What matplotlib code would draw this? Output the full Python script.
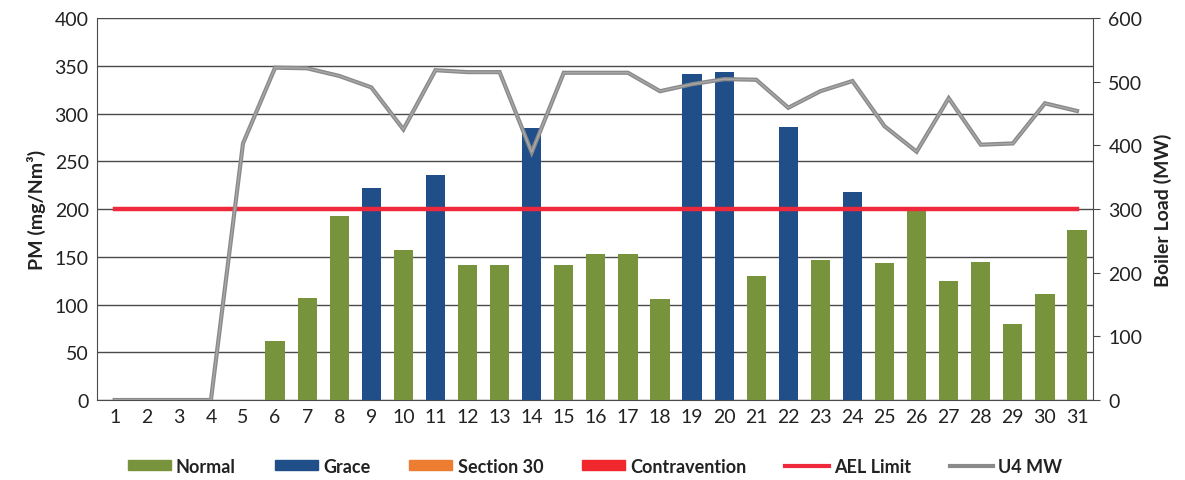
import numpy as np
import matplotlib
matplotlib.use("Agg")
import matplotlib.pyplot as plt
from matplotlib.patches import Patch
from matplotlib.lines import Line2D

plt.rcParams['font.family'] = ['Lato', 'DejaVu Sans']

# data
days = list(range(1, 32))
# PM per day (mg/Nm3); None = no bar
normal = [None, None, None, None, None, 62, 107, 193, None, 157, None, 141, 141, None, 141,
          153, 153, 106, None, None, 130, None, 147, None, 143, 199, 125, 144, 80, 111, 178]
grace = [None, None, None, None, None, None, None, None, 222, None, 236, None, None, 285, None,
         None, None, None, 341, 343, None, 286, None, 218, None, None, None, None, None, None, None]
ael_limit = [200] * 31
u4_mw = [0, 0, 0, 0, 403, 522, 521, 509, 491, 425, 518, 515, 515, 389, 514,
         514, 514, 485, 496, 504, 503, 459, 485, 501, 430, 390, 474, 401, 403, 466, 454]

c_normal = '#77933c'
c_grace = '#1f4e88'
c_s30 = '#ed7d31'
c_contra = '#f0282d'
c_ael = '#f0283c'
c_mw = '#8a8a8a'

fig = plt.figure(figsize=(11.85, 4.81), dpi=100)
ax = fig.add_axes([0.0819, 0.1663, 0.8405, 0.7942])

x = np.array(days)
w = 0.6
nv = np.array([v if v is not None else np.nan for v in normal], dtype=float)
gv = np.array([v if v is not None else np.nan for v in grace], dtype=float)
ax.bar(x, nv, w, color=c_normal, zorder=3)
ax.bar(x, gv, w, color=c_grace, zorder=3)

ax.set_xlim(0.45, 31.5)
ax.set_ylim(0, 400)
ax.set_yticks(range(0, 401, 50))
ax.set_xticks(x)
ax.set_xticklabels([str(d) for d in days])
ax.yaxis.grid(True, color='#4a4a4a', linewidth=1.0, zorder=0)
ax.tick_params(axis='both', length=0, labelsize=14, colors='#222222', pad=6)
ax.set_ylabel('PM (mg/Nm³)', fontsize=14, fontweight='bold', color='#222222', labelpad=6)
for s in ['left', 'bottom']:
    ax.spines[s].set_color('#4a4a4a')
for s in ['top', 'right']:
    ax.spines[s].set_visible(False)

ax2 = ax.twinx()
ax2.set_ylim(0, 600)
ax2.set_yticks(range(0, 601, 100))
ax2.plot(x, np.array(ael_limit) * 1.5, color=c_ael, linewidth=3.2, zorder=4)
ax2.plot(x, u4_mw, color=c_mw, linewidth=3.0, zorder=5, solid_joinstyle='miter')
ax2.plot(x, u4_mw, color='#a8a8a8', linewidth=1.0, zorder=6, solid_joinstyle='miter')
ax2.tick_params(axis='y', length=5, direction='out', labelsize=14, colors='#4a4a4a',
                labelcolor='#222222', pad=6)
ax2.set_ylabel('Boiler Load (MW)', fontsize=14, fontweight='bold', color='#222222', labelpad=8)
for s in ['top', 'left', 'bottom']:
    ax2.spines[s].set_visible(False)
ax2.spines['right'].set_color('#4a4a4a')

handles = [Patch(color=c_normal), Patch(color=c_grace), Patch(color=c_s30), Patch(color=c_contra),
           Line2D([], [], color=c_ael, lw=3), Line2D([], [], color=c_mw, lw=3)]
labels = ['Normal', 'Grace', 'Section 30', 'Contravention', 'AEL Limit', 'U4 MW']
leg = fig.legend(handles, labels, loc='center', bbox_to_anchor=(0.502, 0.029), ncol=6, frameon=False,
                 prop={'size': 13, 'weight': 'bold'}, handlelength=2.4, handleheight=0.45,
                 handletextpad=0.28, columnspacing=2.15)
for t in leg.get_texts():
    t.set_color('#222222')

fig.savefig('out.png', dpi=100)
